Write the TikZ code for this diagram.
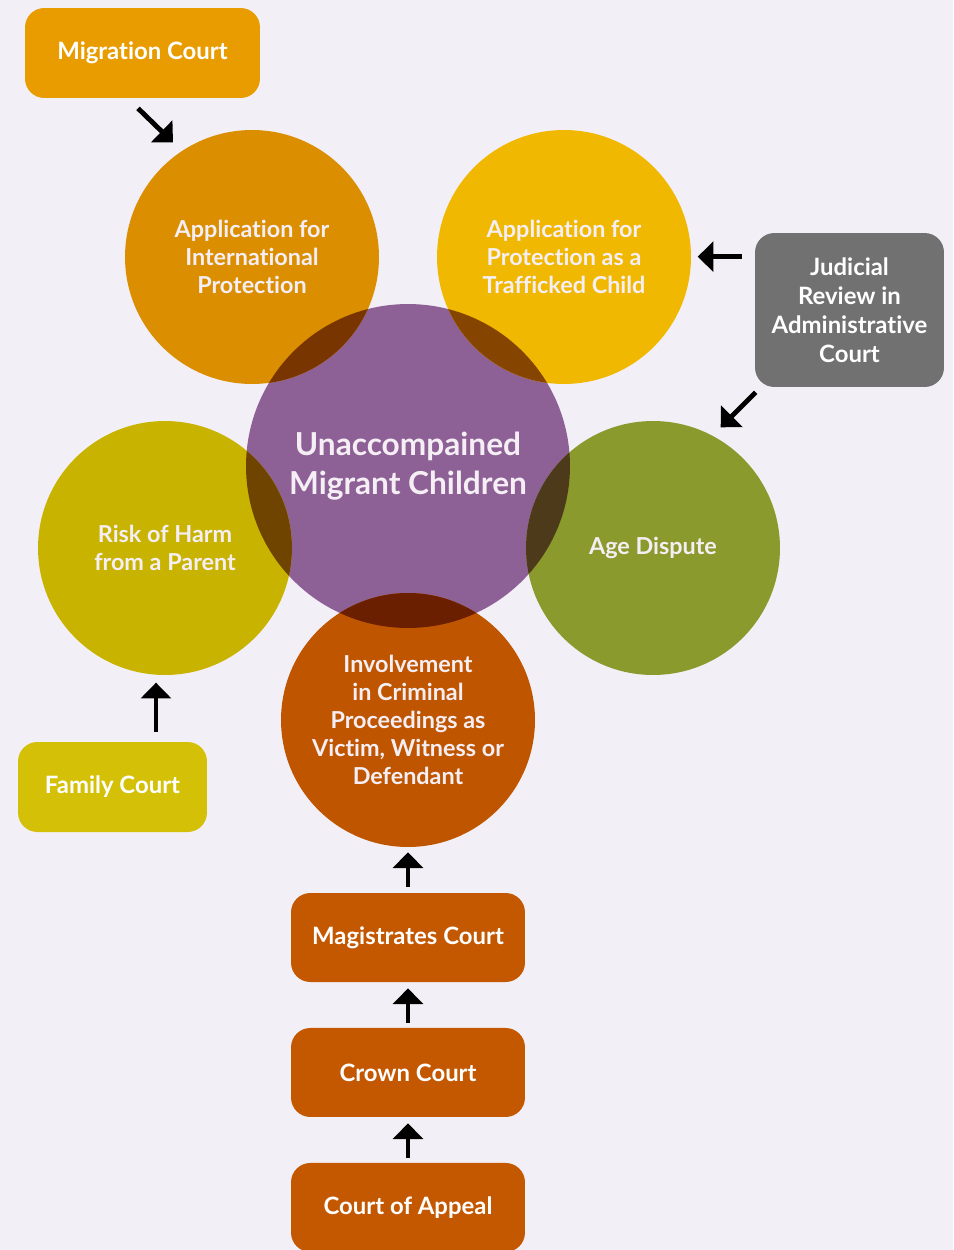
\documentclass[tikz,border=0pt]{standalone}
\usepackage{fontspec}
\setmainfont{Lato}[Ligatures=NoCommon]
\usetikzlibrary{arrows.meta}
\usetikzlibrary{positioning}

\definecolor{bgcol}{HTML}{F3EFF6}
\definecolor{paletext}{HTML}{F5EEF5}
\definecolor{migrcol}{HTML}{E89C00}
\definecolor{judcol}{HTML}{717171}
\definecolor{famcol}{HTML}{D4C107}
\definecolor{crimcol}{HTML}{C45800}
\definecolor{umccol}{HTML}{8D6096}
\definecolor{ipcol}{HTML}{DB8E00}
\definecolor{tfcol}{HTML}{F0B800}
\definecolor{harmcol}{HTML}{C8B400}
\definecolor{agecol}{HTML}{8B9A2C}
\definecolor{invcol}{HTML}{C05500}
\definecolor{ipdark}{HTML}{793500}
\definecolor{tfdark}{HTML}{854500}
\definecolor{harmdark}{HTML}{6F4400}
\definecolor{agedark}{HTML}{4D3A1A}
\definecolor{invdark}{HTML}{6A2000}

\begin{document}
\begin{tikzpicture}[x=0.02cm,y=-0.02cm,node distance=2.7cm,
    court/.style={fill=#1,rounded corners=11pt,minimum width=4.68cm,minimum height=1.78cm,
      text=white,font=\bfseries\fontsize{13.6}{16.4}\selectfont,align=center,inner sep=2pt},
    topic/.style={circle,fill=#1,minimum size=5.08cm,inner sep=0pt,
      text=paletext,font=\bfseries\fontsize{13.3}{16}\selectfont,align=center},
    hop/.style={-{Triangle[width=17pt,length=9pt]},line width=2.8pt,black}]
  \fill[bgcol] (0,0) rectangle (953,1250);
  \useasboundingbox (0,0) rectangle (953,1250);

  % centre and topics
  \node[circle,fill=umccol,minimum size=6.48cm,inner sep=0pt,text=paletext,
    font=\bfseries\fontsize{18}{22}\selectfont,align=center] (umc) at (408,466)
    {Unaccompained\\Migrant Children};
  \node[topic=ipcol] (intprot) at (252,257) {Application for\\International\\Protection};
  \node[topic=tfcol] (traff) at (564,257) {Application for\\Protection as a\\Trafficked Child};
  \node[topic=harmcol] (harm) at (165,548) {Risk of Harm\\from a Parent};
  \node[topic=agecol] (age) at (653,548) {Age Dispute};
  \node[topic=invcol] (invol) at (408,720)
    {Involvement\\in Criminal\\Proceedings as\\Victim, Witness or\\Defendant};

  % overlaps
  \begin{scope}
    \clip (umc.center) circle[radius=3.24cm];
    \fill[ipdark] (intprot.center) circle[radius=2.54cm];
    \fill[tfdark] (traff.center) circle[radius=2.54cm];
    \fill[harmdark] (harm.center) circle[radius=2.54cm];
    \fill[agedark] (age.center) circle[radius=2.54cm];
    \fill[invdark] (invol.center) circle[radius=2.54cm];
  \end{scope}

  % courts
  \node[court=migrcol,minimum width=4.7cm,minimum height=1.8cm] (migr) at (142.5,53) {Migration Court};
  \node[court=judcol,minimum width=3.78cm,minimum height=3.08cm] (judrev) at (849.5,310)
    {Judicial\\Review in\\Administrative\\Court};
  \node[court=famcol,minimum width=3.78cm,minimum height=1.8cm] (famct) at (112.5,787) {Family Court};
  \node[court=crimcol] (magct) at (408,937.5) {Magistrates Court};
  \node[court=crimcol] (crown) [below of=magct] {Crown Court};
  \node[court=crimcol] (appeal) [below of=crown] {Court of Appeal};

  \draw[hop] (migr.south) ++(-4.5,10) -- ++(35,34);
  \draw[hop] (judrev.north west) ++(-13,24) -- ++(-44,0);
  \draw[hop] (judrev.south west) ++(1,5) -- ++(-35,35);
  \draw[hop] (famct.north) ++(43.5,-10) -- ++(0,-49);
  \draw[hop,shorten <=3.4pt,shorten >=2.8pt] (magct) -- (invol);
  \draw[hop,shorten <=2.8pt,shorten >=3.4pt] (crown) -- (magct);
  \draw[hop,shorten <=2.8pt,shorten >=3.4pt] (appeal) -- (crown);
\end{tikzpicture}
\end{document}
